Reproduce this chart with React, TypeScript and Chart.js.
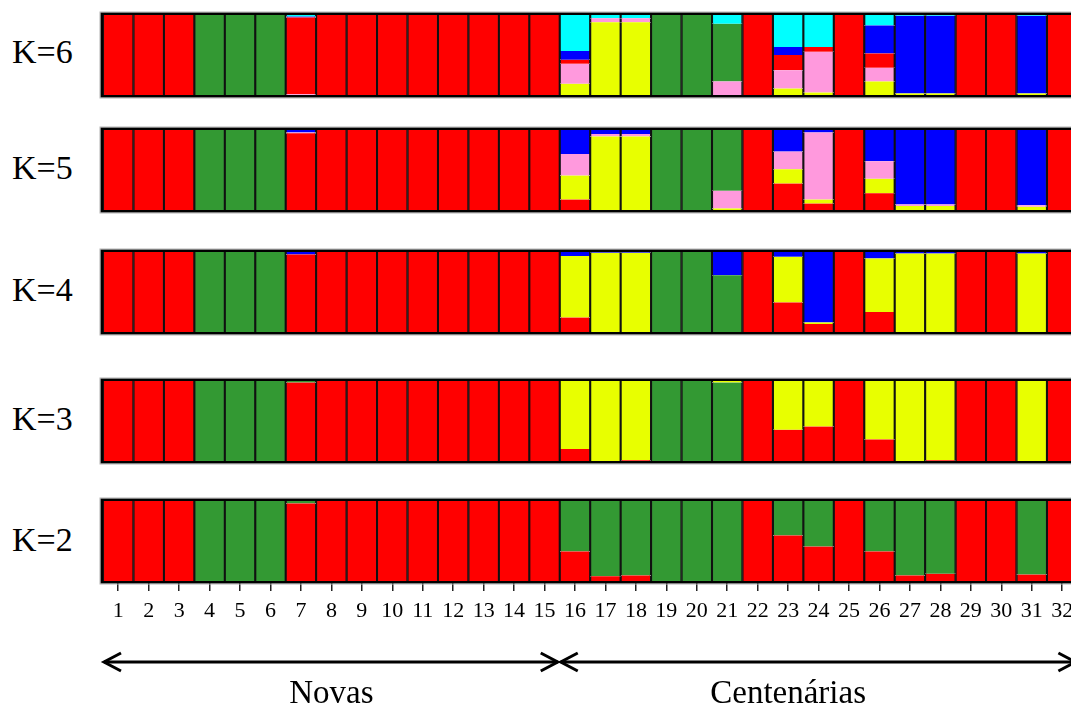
import React, { useEffect, useRef } from "react";
import { Chart, registerables } from "chart.js";
Chart.register(...registerables);

// ---------- data ----------
const individuals = ["1","2","3","4","5","6","7","8","9","10","11","12","13","14","15","16","17","18","19","20","21","22","23","24","25","26","27","28","29","30","31","32"];

const RED = "#ff0000";
const GREEN = "#339933";
const YELLOW = "#e8ff00";
const BLUE = "#0000ff";
const PINK = "#ff99dd";
const CYAN = "#00ffff";

// K=6 (stack order bottom→top: yellow, pink, red, blue, green, cyan)
const k6Yellow = [0,0,0,0,0,0,0,0,0,0,0,0,0,0,0, 0.14,0.91,0.91,0,0,0,0,0.08,0.03,0,0.17,0.02,0.02,0,0,0.02,0];
const k6Pink   = [0,0,0,0,0,0,0.01,0,0,0,0,0,0,0,0, 0.25,0.05,0.05,0,0,0.17,0,0.23,0.51,0,0.17,0,0,0,0,0,0];
const k6Red    = [1,1,1,0,0,0,0.96,1,1,1,1,1,1,1,1, 0.05,0,0,0,0,0,1,0.19,0.06,1,0.18,0,0,1,1,0,1];
const k6Blue   = [0,0,0,0,0,0,0.01,0,0,0,0,0,0,0,0, 0.11,0,0,0,0,0,0,0.10,0,0,0.35,0.97,0.97,0,0,0.97,0];
const k6Green  = [0,0,0,1,1,1,0,0,0,0,0,0,0,0,0, 0,0,0,1,1,0.72,0,0,0,0,0,0,0,0,0,0,0];
const k6Cyan   = [0,0,0,0,0,0,0.02,0,0,0,0,0,0,0,0, 0.45,0.04,0.04,0,0,0.11,0,0.40,0.40,0,0.13,0.01,0.01,0,0,0.01,0];

// K=5 (red, yellow, pink, blue, green)
const k5Red    = [1,1,1,0,0,0,0.96,1,1,1,1,1,1,1,1, 0.13,0,0,0,0,0,1,0.33,0.08,1,0.21,0,0,1,1,0,1];
const k5Yellow = [0,0,0,0,0,0,0,0,0,0,0,0,0,0,0, 0.30,0.92,0.92,0,0,0.02,0,0.18,0.05,0,0.18,0.05,0.05,0,0,0.04,0];
const k5Pink   = [0,0,0,0,0,0,0.01,0,0,0,0,0,0,0,0, 0.27,0.03,0.03,0,0,0.22,0,0.22,0.84,0,0.22,0.02,0.02,0,0,0.02,0];
const k5Blue   = [0,0,0,0,0,0,0.03,0,0,0,0,0,0,0,0, 0.30,0.05,0.05,0,0,0,0,0.27,0.03,0,0.39,0.93,0.93,0,0,0.94,0];
const k5Green  = [0,0,0,1,1,1,0,0,0,0,0,0,0,0,0, 0,0,0,1,1,0.76,0,0,0,0,0,0,0,0,0,0,0];

// K=4 (red, yellow, green, blue)
const k4Red    = [1,1,1,0,0,0,0.97,1,1,1,1,1,1,1,1, 0.18,0,0,0,0,0,1,0.37,0.10,1,0.25,0,0,1,1,0,1];
const k4Yellow = [0,0,0,0,0,0,0,0,0,0,0,0,0,0,0, 0.77,0.99,0.99,0,0,0,0,0.57,0.02,0,0.67,0.98,0.98,0,0,0.98,0];
const k4Green  = [0,0,0,1,1,1,0,0,0,0,0,0,0,0,0, 0,0,0,1,1,0.71,0,0,0,0,0,0,0,0,0,0,0];
const k4Blue   = [0,0,0,0,0,0,0.03,0,0,0,0,0,0,0,0, 0.05,0.01,0.01,0,0,0.29,0,0.06,0.88,0,0.08,0.02,0.02,0,0,0.02,0];

// K=3 (red, green, yellow)
const k3Red    = [1,1,1,0,0,0,0.98,1,1,1,1,1,1,1,1, 0.15,0,0.01,0,0,0,1,0.39,0.43,1,0.27,0,0.01,1,1,0,1];
const k3Green  = [0,0,0,1,1,1,0.02,0,0,0,0,0,0,0,0, 0,0,0,1,1,0.98,0,0,0,0,0,0,0,0,0,0,0];
const k3Yellow = [0,0,0,0,0,0,0,0,0,0,0,0,0,0,0, 0.85,1,0.99,0,0,0.02,0,0.61,0.57,0,0.73,1,0.99,0,0,1,0];

// K=2 (red, green)
const k2Red    = [1,1,1,0,0,0,0.97,1,1,1,1,1,1,1,1, 0.37,0.06,0.07,0,0,0,1,0.57,0.43,1,0.37,0.07,0.09,1,1,0.08,1];
const k2Green  = [0,0,0,1,1,1,0.03,0,0,0,0,0,0,0,0, 0.63,0.94,0.93,1,1,1,0,0.43,0.57,0,0.63,0.93,0.91,0,0,0.92,0];

// groups under the axis
const groupNames = ["Novas", "Centenárias"];
const groupStart = [1, 16];
const groupEnd = [15, 32];
const groupLabelAt = [8, 23];

// ---------- layout ----------
const FONT = '"Times New Roman", "Liberation Serif", serif';
const AREA_LEFT = 103;
const AREA_W = 974.4;
const AREA_H = 80;
const PAD = 4;
const BOTTOM_CANVAS_END = 706;
const AXIS_H = 40;

type Layer = { color: string; values: number[] };
type PanelDef = { label: string; top: number; labelDy: number; layers: Layer[] };

const panels: PanelDef[] = [
  { label: "K=6", top: 15, labelDy: -20.2, layers: [
    { color: YELLOW, values: k6Yellow }, { color: PINK, values: k6Pink }, { color: RED, values: k6Red },
    { color: BLUE, values: k6Blue }, { color: GREEN, values: k6Green }, { color: CYAN, values: k6Cyan } ] },
  { label: "K=5", top: 130, labelDy: -19, layers: [
    { color: RED, values: k5Red }, { color: YELLOW, values: k5Yellow }, { color: PINK, values: k5Pink },
    { color: BLUE, values: k5Blue }, { color: GREEN, values: k5Green } ] },
  { label: "K=4", top: 252, labelDy: -19, layers: [
    { color: RED, values: k4Red }, { color: YELLOW, values: k4Yellow }, { color: GREEN, values: k4Green },
    { color: BLUE, values: k4Blue } ] },
  { label: "K=3", top: 381, labelDy: -19, layers: [
    { color: RED, values: k3Red }, { color: GREEN, values: k3Green }, { color: YELLOW, values: k3Yellow } ] },
  { label: "K=2", top: 501, labelDy: -18, layers: [
    { color: RED, values: k2Red }, { color: GREEN, values: k2Green } ] },
];

const framePlugin = {
  id: "frame",
  afterDatasetsDraw(chart: any) {
    const { ctx, chartArea } = chart;
    const { left, top, right, bottom } = chartArea;
    ctx.save();
    ctx.strokeStyle = "#b4b4b4";
    ctx.lineWidth = 1;
    ctx.strokeRect(left - 3, top - 3, right - left + 6, bottom - top + 6);
    ctx.strokeStyle = "#000";
    ctx.lineWidth = 2.4;
    ctx.strokeRect(left - 1.2, top - 1.2, right - left + 2.4, bottom - top + 2.4);
    ctx.restore();
  },
};

function chevron(ctx: CanvasRenderingContext2D, x: number, y: number, dir: number) {
  ctx.beginPath();
  ctx.moveTo(x - dir * 17, y - 9);
  ctx.lineTo(x, y);
  ctx.lineTo(x - dir * 17, y + 9);
  ctx.stroke();
}

const groupPlugin = {
  id: "groups",
  afterDraw(chart: any) {
    const { ctx } = chart;
    const xs = chart.scales.x;
    const half = (xs.getPixelForValue(1) - xs.getPixelForValue(0)) / 2;
    const canvasTop = panels[panels.length - 1].top - PAD;
    const y = 662 - canvasTop;
    const textY = 703 - canvasTop;
    ctx.save();
    ctx.strokeStyle = "#000";
    ctx.fillStyle = "#000";
    ctx.lineWidth = 3;
    ctx.lineCap = "butt";
    ctx.lineJoin = "miter";
    groupNames.forEach((name, i) => {
      const x0 = xs.getPixelForValue(groupStart[i] - 1) - half + 1;
      const x1 = xs.getPixelForValue(groupEnd[i] - 1) + half - 2;
      ctx.beginPath();
      ctx.moveTo(x0, y);
      ctx.lineTo(x1, y);
      ctx.stroke();
      chevron(ctx, x0, y, -1);
      chevron(ctx, x1, y, 1);
      ctx.font = `33px ${FONT}`;
      ctx.textAlign = "center";
      ctx.textBaseline = "alphabetic";
      ctx.fillText(name, xs.getPixelForValue(groupLabelAt[i] - 1), textY);
    });
    ctx.restore();
  },
};

function Panel({ def, axis }: { def: PanelDef; axis: boolean }) {
  const ref = useRef<HTMLCanvasElement>(null);
  const width = Math.round(AREA_W + PAD * 2);
  const canvasTop = def.top - PAD;
  const height = axis ? BOTTOM_CANVAS_END - canvasTop : AREA_H + PAD * 2;
  useEffect(() => {
    const xScale: any = {
      stacked: true,
      display: axis,
      grid: { display: true, drawOnChartArea: false, drawTicks: true, tickLength: 10, offset: false, color: "#222", lineWidth: 1.5 },
      border: { display: false },
      ticks: { autoSkip: false, maxRotation: 0, padding: 7, color: "#000", font: { family: FONT, size: 22 } },
    };
    if (axis) xScale.afterFit = (s: any) => { s.height = AXIS_H; };
    const chart = new Chart(ref.current as HTMLCanvasElement, {
      type: "bar",
      data: {
        labels: individuals,
        datasets: def.layers.map((l) => ({
          data: l.values,
          backgroundColor: l.color,
          borderColor: "#111",
          borderWidth: { left: 1.4, right: 1.4, top: 0, bottom: 0 },
          borderSkipped: false,
          barPercentage: 1,
          categoryPercentage: 1,
        })),
      },
      options: {
        animation: false,
        responsive: false,
        maintainAspectRatio: false,
        events: [],
        layout: {
          padding: { left: PAD, right: width - PAD - AREA_W, top: PAD, bottom: axis ? height - PAD - AREA_H - AXIS_H : PAD },
        },
        plugins: { legend: { display: false }, tooltip: { enabled: false } },
        scales: {
          x: xScale,
          y: { stacked: true, display: false, min: 0, max: 1 },
        },
      } as any,
      plugins: axis ? [framePlugin, groupPlugin] : [framePlugin],
    });
    return () => chart.destroy();
  }, []);
  return (
    <>
      <canvas
        ref={ref}
        width={width}
        height={height}
        style={{ position: "absolute", left: AREA_LEFT - PAD, top: canvasTop, width, height }}
      />
      <div
        style={{
          position: "absolute", left: 12, top: def.top + AREA_H / 2 + def.labelDy,
          fontFamily: FONT, fontSize: 34, lineHeight: "34px", color: "#000", whiteSpace: "nowrap",
        }}
      >
        {def.label}
      </div>
    </>
  );
}

export default function App() {
  return (
    <div style={{ position: "absolute", left: 0, top: 0, width: 1071, height: 706, overflow: "hidden", background: "#fff" }}>
      {panels.map((p, i) => (
        <Panel key={p.label} def={p} axis={i === panels.length - 1} />
      ))}
    </div>
  );
}
